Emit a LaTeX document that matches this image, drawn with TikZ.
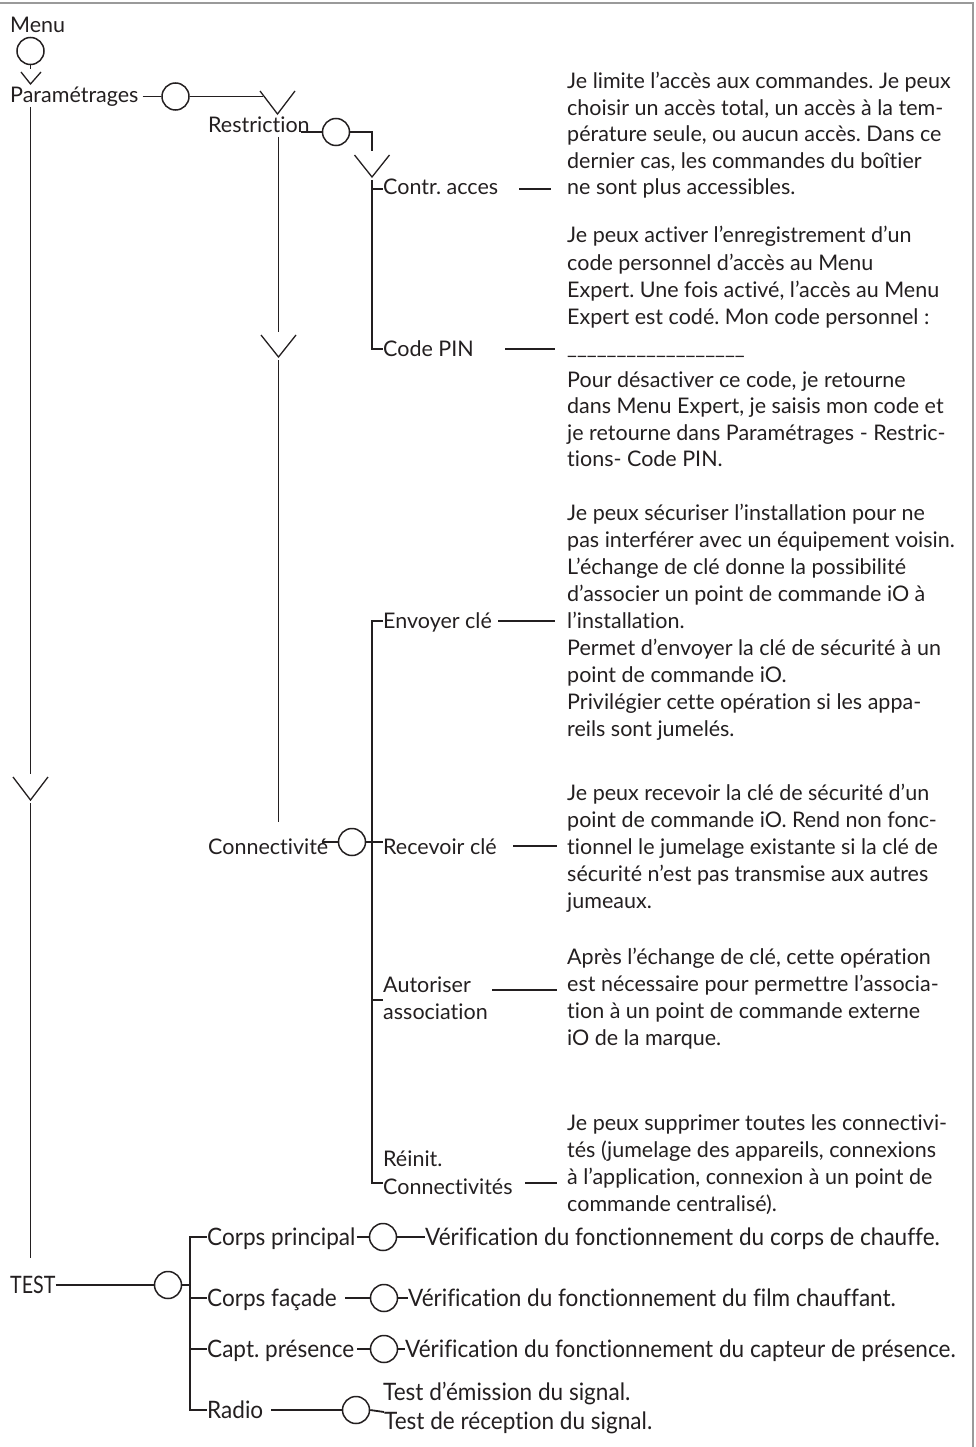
\documentclass[tikz,border=0pt]{standalone}
\usepackage{fontspec}
\setmainfont{Lato}[Ligatures=NoCommon]
\newfontfamily\condfont{Lato}[FakeStretch=0.94,Ligatures=NoCommon]
\newfontfamily\narrowfont{Lato}[FakeStretch=0.82,Ligatures=NoCommon]
\usetikzlibrary{calc}
\definecolor{ink}{HTML}{231F20}
\definecolor{framegray}{HTML}{9A9A9A}
\frenchspacing
\begin{document}
\begin{tikzpicture}[x=1pt,y=-1pt,
  lbl/.style={anchor=base west, inner sep=0pt, text=ink, font=\frenchspacing\fontsize{21.5}{26}\selectfont},
  tst/.style={anchor=base west, inner sep=0pt, text=ink, font=\frenchspacing\condfont\fontsize{24}{26}\selectfont},
  tsttitle/.style={anchor=base west, inner sep=0pt, text=ink, font=\narrowfont\fontsize{24}{26}\selectfont},
  ring/.style={circle, draw=ink, line width=1.5pt, minimum size=27pt, inner sep=0pt},
  wire/.style={draw=ink, line width=1.8pt},
  chev/.style={draw=ink, line width=1.3pt},
  borderline/.style={draw=framegray, line width=2pt}]
\useasboundingbox (0,0) rectangle (975,1447);
% frame
\coordinate (fTL) at (0,3);
\coordinate (fTR) at (972.5,3);
\coordinate (fBR) at (972.5,1447);
\draw[borderline] (fTL) -- (fTR) -- (fBR);

% ---------- Menu ----------
\node[lbl] (menu) at (10,33) {Menu};
\node[ring] (c0) at (30.5,51) {};
\coordinate (stem) at (30.5,69);
\draw[wire] (c0.south) -- (stem);
\coordinate (m1) at (21,72); \coordinate (m2) at (30.5,84); \coordinate (m3) at (41,72);
\draw[chev] (m1) -- (m2) -- (m3);

% ---------- Parametrages ----------
\node[lbl] (par) at (10,103) {Paramétrages};
\node[ring] (c1) at (175.5,96.5) {};
\draw[wire] ([xshift=4pt]par.east |- c1.west) -- (c1.west);
\coordinate (p1e) at (263,96.5);
\draw[wire] (c1.east) -- (p1e);
\coordinate (v1a) at (260,91); \coordinate (v1b) at (277.5,114); \coordinate (v1c) at (295,91);
\draw[chev] (v1a) -- (v1b) -- (v1c);

% main vertical with chevron
\coordinate (mv0) at (30.5,107);
\coordinate (mv1) at (30.5,774);
\coordinate (mv2) at (30.5,803);
\coordinate (mv3) at (30.5,1258);
\coordinate (vma) at (13,777); \coordinate (vmb) at (30.5,800); \coordinate (vmc) at (48,777);
\draw[wire] (mv0) -- (mv1);
\draw[chev] (vma) -- (vmb) -- (vmc);
\draw[wire] (mv2) -- (mv3);

% ---------- Restriction ----------
\node[lbl] (restr) at (208,133) {Restriction};
\node[ring] (c2) at (336,132) {};
\draw[wire] ([xshift=-9pt]restr.east |- c2.west) -- (c2.west);
\coordinate (k1) at (372,132); \coordinate (k2) at (372,151);
\draw[wire] (c2.east) -- (k1) -- (k2);
\coordinate (v3a) at (354.5,155); \coordinate (v3b) at (372,177); \coordinate (v3c) at (389.5,155);
\draw[chev] (v3a) -- (v3b) -- (v3c);

% restriction vertical
\coordinate (rv0) at (278.5,137);
\coordinate (rv1) at (278.5,332);
\coordinate (rv2) at (278.5,360);
\coordinate (rv3) at (278.5,822);
\coordinate (v2a) at (261,335); \coordinate (v2b) at (278.5,357); \coordinate (v2c) at (296,335);
\draw[wire] (rv0) -- (rv1);
\draw[chev] (v2a) -- (v2b) -- (v2c);
\draw[wire] (rv2) -- (rv3);

% contr / code pin bracket
\node[lbl] (ca) at (383,195) {Contr. acces};
\node[lbl] (pin) at (383,356) {Code PIN};
\coordinate (b0) at (372,180);
\coordinate (b1) at (372,349);
\draw[wire] (b0) -- (b1) -- (b1 -| pin.west);
\draw[wire] (372,189) -- (ca.west |- 0,189);

\coordinate (caL) at (519,189); \coordinate (caR) at (551,189);
\draw[wire] (caL) -- (caR);
\coordinate (pinL) at (505,349); \coordinate (pinR) at (555,349);
\draw[wire] (pinL) -- (pinR);

% paragraph 1
\foreach \t [count=\i] in {
  {Je limite l’accès aux commandes. Je peux},
  {choisir un accès total, un accès à la tem-},
  {pérature seule, ou aucun accès. Dans ce},
  {dernier cas, les commandes du boîtier},
  {ne sont plus accessibles.}}
  \node[lbl] (pa\i) at (567,{89+(\i-1)*26.5}) {\t};

% paragraph 2
\foreach \t/\yy [count=\i] in {
  {Je peux activer l’enregistrement d’un}/243,
  {code personnel d’accès au Menu}/270,
  {Expert. Une fois activé, l’accès au Menu}/297,
  {Expert est codé. Mon code personnel :}/324,
  {\_\_\_\_\_\_\_\_\_\_\_\_\_\_\_\_\_\_}/354,
  {Pour désactiver ce code, je retourne}/387,
  {dans Menu Expert, je saisis mon code et}/413.5,
  {je retourne dans Paramétrages - Restric-}/440,
  {tions- Code PIN.}/466.5}
  \node[lbl] (pb\i) at (567,\yy) {\t};

% ---------- Connectivite ----------
\node[lbl] (conn) at (208,854) {Connectivité};
\node[ring] (c3) at (352,842) {};
\draw[wire] ([xshift=-6pt]conn.east |- c3.west) -- (c3.west);

\node[lbl] (env) at (383,628) {Envoyer clé};
\node[lbl] (rec) at (383,854) {Recevoir clé};
\node[lbl] (aut1) at (383,992) {Autoriser};
\node[lbl] (aut2) at (383,1019) {association};
\node[lbl] (rei1) at (383,1166) {Réinit.};
\node[lbl] (rei2) at (383,1194) {Connectivités};

\coordinate (q0) at (372,621);
\coordinate (q1) at (372,1183);
\draw[wire] (q0 -| env.west) -- (q0) -- (q1) -- (q1 -| rei2.west);
\draw[wire] (c3.east) -- (372,842) -- (rec.west |- 0,842);
\draw[wire] (372,1000) -- (aut1.west |- 0,1000);

\coordinate (envL) at (498,621); \coordinate (envR) at (555,621);
\draw[wire] (envL) -- (envR);
\coordinate (recL) at (513,846); \coordinate (recR) at (557,846);
\draw[wire] (recL) -- (recR);
\coordinate (autL) at (492,990); \coordinate (autR) at (557,990);
\draw[wire] (autL) -- (autR);
\coordinate (reiL) at (525,1183); \coordinate (reiR) at (557,1183);
\draw[wire] (reiL) -- (reiR);

% paragraph 3
\foreach \t [count=\i] in {
  {Je peux sécuriser l’installation pour ne},
  {pas interférer avec un équipement voisin.},
  {L’échange de clé donne la possibilité},
  {d’associer un point de commande iO à},
  {l’installation.},
  {Permet d’envoyer la clé de sécurité à un},
  {point de commande iO.},
  {Privilégier cette opération si les appa-},
  {reils sont jumelés.}}
  \node[lbl] (pc\i) at (567,{520+(\i-1)*27}) {\t};

% paragraph 4
\foreach \t [count=\i] in {
  {Je peux recevoir la clé de sécurité d’un},
  {point de commande iO. Rend non fonc-},
  {tionnel le jumelage existante si la clé de},
  {sécurité n’est pas transmise aux autres},
  {jumeaux.}}
  \node[lbl] (pd\i) at (567,{800+(\i-1)*27}) {\t};

% paragraph 5
\foreach \t [count=\i] in {
  {Après l’échange de clé, cette opération},
  {est nécessaire pour permettre l’associa-},
  {tion à un point de commande externe},
  {iO de la marque.}}
  \node[lbl] (pe\i) at (567,{964+(\i-1)*27}) {\t};

% paragraph 6
\foreach \t [count=\i] in {
  {Je peux supprimer toutes les connectivi-},
  {tés (jumelage des appareils, connexions},
  {à l’application, connexion à un point de},
  {commande centralisé).}}
  \node[lbl] (pf\i) at (567,{1130+(\i-1)*27}) {\t};

% ---------- TEST ----------
\node[tsttitle] (test) at (10,1293) {TEST};
\node[ring] (c4) at (168,1285) {};
\draw[wire] (test.east |- c4.west) -- (c4.west);
\coordinate (t0) at (190,1237);
\coordinate (t1) at (190,1410);
\node[tst] (cp) at (207,1245) {Corps principal};
\node[tst] (cf) at (207,1306) {Corps façade};
\node[tst] (cpr) at (207,1357) {Capt. présence};
\node[tst] (rad) at (207,1418) {Radio};
\draw[wire] (t0 -| cp.west) -- (t0) -- (t1) -- (t1 -| rad.west);
\draw[wire] (c4.east) -- (190,1285);
\draw[wire] (190,1298) -- (cf.west |- 0,1298);
\draw[wire] (190,1349) -- (cpr.west |- 0,1349);

\node[ring] (c5) at (383,1237) {};
\node[ring] (c6) at (384,1298) {};
\node[ring] (c7) at (384,1349) {};
\node[ring] (c8) at (356,1410) {};
\node[tst] (r1) at (425,1245) {Vérification du fonctionnement du corps de chauffe.};
\node[tst] (r2) at (408,1306) {Vérification du fonctionnement du film chauffant.};
\node[tst] (r3) at (405,1357) {Vérification du fonctionnement du capteur de présence.};
\node[tst] (r4) at (383,1400) {Test d’émission du signal.};
\node[tst] (r5) at (384,1429) {Test de réception du signal.};

\draw[wire] ([xshift=1pt]cp.east |- c5.west) -- (c5.west);
\draw[wire] (c5.east) -- (r1.west |- c5.east);
\draw[wire] ([xshift=8pt]cf.east |- c6.west) -- (c6.west);
\draw[wire] (c6.east) -- (r2.west |- c6.east);
\draw[wire] ([xshift=3pt]cpr.east |- c7.west) -- (c7.west);
\draw[wire] (c7.east) -- (r3.west |- c7.east);
\draw[wire] ([xshift=8pt]rad.east |- c8.west) -- (c8.west);
\draw[wire] (c8.east) -- (r5.west |- 0,1412);
\end{tikzpicture}
\end{document}
